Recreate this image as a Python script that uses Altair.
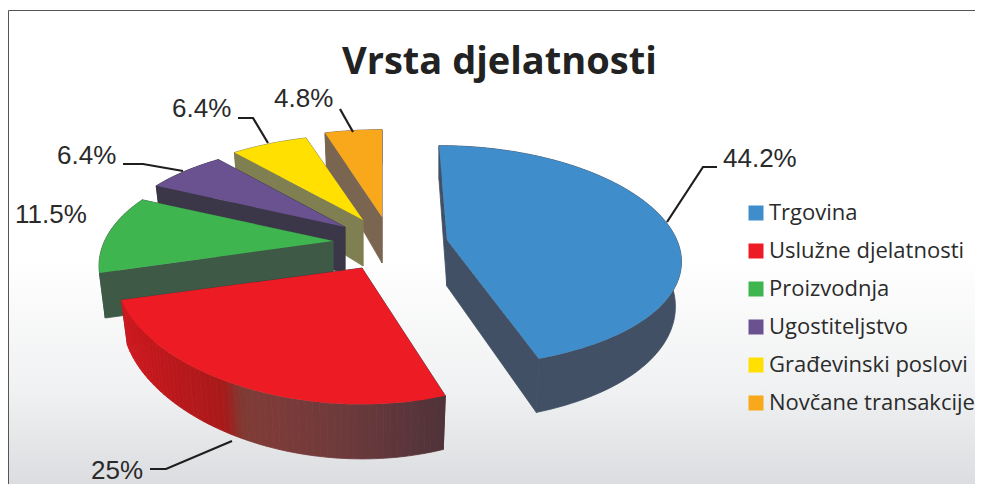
import math
import numpy as np
import altair as alt

# ---- chart values ----
categories = ["Trgovina", "Uslužne djelatnosti", "Proizvodnja", "Ugostiteljstvo", "Građevinski poslovi", "Novčane transakcije"]
shares = [44.2, 25.0, 11.5, 6.4, 6.4, 4.8]
share_labels = ["44.2%", "25%", "11.5%", "6.4%", "6.4%", "4.8%"]
title_text = "Vrsta djelatnosti"

# ---- styles ----
top_colors = ["#3f8dcb", "#ed1c24", "#3fb54f", "#6a518f", "#ffe000", "#f9a81b"]
wall_colors = ["#415064", None, "#3e5a46", "#3b3648", "#807f52", "#7a6650"]
red_wall_x = [121, 150, 222, 240, 255, 340, 445]
red_wall_c = ["#d01a20", "#c3181d", "#a81a1a", "#7f3a34", "#803c38", "#6f3a3c", "#50343a"]

# ---- layout (page pixels): apex, arc centre, x-stretch at start/end of each sweep ----
W, H = 967, 476
OX, OY = 8, 8
apex = [(447, 240), (362, 268), (333, 241), (345, 227), (363, 220), (382, 217)]
centre = [(439, 231), (362, 268), (333, 241), (345, 227), (363, 220), (382, 215)]
stretch = [(0.98, 1.09), (0.91, 1.02), (0.99, 1.01), (1.0, 0.985), (1.0, 1.0), (1.0, 1.0)]
R, Q, K, DEPTH, APEX_DEPTH, SHRINK = 230.0, 105.0, 0.23, 42.0, 46.0, 0.975
paint_order = [5, 4, 3, 2, 1, 0]
leaders = {
    0: [(667, 222), (703, 167), (717, 167)],
    1: [(232, 441), (166, 469), (150, 469)],
    3: [(183, 171), (143, 164), (123, 164)],
    4: [(268, 143), (253, 118), (238, 118)],
    5: [(353, 132), (340, 109)],
}
label_pos = [(723, 167), (91, 479), (15, 223), (57, 164), (172, 117), (274, 107)]


def px(p):
    return [round(p[0] - OX, 2), round(p[1] - OY, 2)]


def poly(points, **props):
    ring = [px(p) for p in points]
    ring.append(ring[0])
    return {"type": "Feature", "properties": props, "geometry": {"type": "Polygon", "coordinates": [ring]}}


total = sum(shares)
edges = np.cumsum([0] + shares) / total * 360.0


def rim(i, t):
    """point on the perspective rim of slice i at sweep fraction t; returns x, y, s"""
    a = math.radians(edges[i] + t * (edges[i + 1] - edges[i]))
    u, v = math.sin(a), math.cos(a)
    s = 1 / (1 + K * v)
    f = stretch[i][0] + (stretch[i][1] - stretch[i][0]) * t * t
    cx, cy = centre[i]
    return cx + R * u * s * f, cy - Q * v * s, s


def drop(i, x, y, s):
    cx = centre[i][0]
    return cx + (x - cx) * SHRINK, y + DEPTH * s


def red_colour(x):
    rgb = [[int(c[j:j + 2], 16) for j in (1, 3, 5)] for c in red_wall_c]
    out = [int(np.interp(x, red_wall_x, [c[k] for c in rgb])) for k in range(3)]
    return "#%02x%02x%02x" % tuple(out)


def slice_layers(i):
    n = max(6, int((edges[i + 1] - edges[i]) / 1.5))
    ts = [j / n for j in range(n + 1)]
    pts = [rim(i, t) for t in ts]
    ax, ay = apex[i]
    a_bottom = (centre[i][0] + (ax - centre[i][0]) * SHRINK, ay + APEX_DEPTH)
    walls = []
    radial = wall_colors[i] or red_wall_c[-1]
    for p in (pts[0], pts[-1]):
        walls.append(poly([(ax, ay), p[:2], drop(i, *p), a_bottom], fill=radial))
    if wall_colors[i]:
        ring = [p[:2] for p in pts] + [drop(i, *p) for p in reversed(pts)]
        walls.append(poly(ring, fill=wall_colors[i]))
    else:
        for p, q in zip(pts[:-1], pts[1:]):
            walls.append(poly([p[:2], q[:2], drop(i, *q), drop(i, *p)], fill=red_colour((p[0] + q[0]) / 2)))
    top = poly([(ax, ay)] + [p[:2] for p in pts], name=categories[i])
    return walls, top


proj = alt.Projection(type="identity", scale=1, translate=[0, 0])
layers = []

bg = alt.Chart(alt.Data(values=[{"a": 1}])).mark_rect(
    color=alt.LinearGradient(
        gradient="linear", x1=0, x2=0, y1=0, y2=1,
        stops=[alt.GradientStop(offset=0, color="#ffffff"),
               alt.GradientStop(offset=0.52, color="#ffffff"),
               alt.GradientStop(offset=0.8, color="#f0f1f2"),
               alt.GradientStop(offset=1, color="#dcdde0")])
).encode(x=alt.value(1), x2=alt.value(W), y=alt.value(3), y2=alt.value(H))
layers.append(bg)

border = [{"x": 0.5, "y": 2.5, "x2": W, "y2": 2.5}, {"x": 0.5, "y": 2.5, "x2": 0.5, "y2": H}]
layers.append(alt.Chart(alt.Data(values=border)).mark_rule(color="#555555", strokeWidth=1).encode(
    x=alt.X("x:Q", scale=None), y=alt.Y("y:Q", scale=None),
    x2="x2:Q", y2="y2:Q"))

legend = alt.Legend(title=None, orient="none", legendX=737, legendY=194, symbolType="square", symbolSize=225,
                    symbolStrokeWidth=0, labelFont="Open Sans", labelFontSize=22, labelColor="#2b2b2b",
                    labelLimit=300, rowPadding=16, labelOffset=2, padding=0)

for i in paint_order:
    walls, top = slice_layers(i)
    layers.append(alt.Chart(alt.Data(values=walls)).mark_geoshape(strokeWidth=0.8).encode(
        fill=alt.Fill("properties.fill:N", scale=None),
        stroke=alt.Stroke("properties.fill:N", scale=None)).project(**proj.to_dict()))
    layers.append(alt.Chart(alt.Data(values=[top])).mark_geoshape().encode(
        color=alt.Color("properties.name:N", scale=alt.Scale(domain=categories, range=top_colors), legend=legend)
    ).project(**proj.to_dict()))

lead_feats = [{"type": "Feature", "properties": {"k": k},
               "geometry": {"type": "LineString", "coordinates": [px(p) for p in pts]}}
              for k, pts in leaders.items()]
layers.append(alt.Chart(alt.Data(values=lead_feats)).mark_geoshape(
    filled=False, stroke="#1e1e1e", strokeWidth=2.2).project(**proj.to_dict()))

label_rows = [{"label": s, "x": label_pos[i][0] - OX, "y": label_pos[i][1] - OY} for i, s in enumerate(share_labels)]
layers.append(alt.Chart(alt.Data(values=label_rows)).mark_text(
    font="Liberation Sans", fontSize=26, color="#2a2a2a", align="left", baseline="alphabetic"
).encode(x=alt.X("x:Q", scale=None), y=alt.Y("y:Q", scale=None), text="label:N"))

chart = alt.layer(*layers).properties(
    width=W, height=H, padding=0, autosize=alt.AutoSizeParams(type="none"),
    background="#ffffff",
    title=alt.TitleParams(title_text, font="Open Sans", fontWeight="bold", fontSize=38, color="#222222",
                          anchor="start", dx=334, offset=-104, baseline="alphabetic"),
).configure_view(strokeWidth=0)

chart.save("out.html", embed_options={"renderer": "svg", "actions": False})
